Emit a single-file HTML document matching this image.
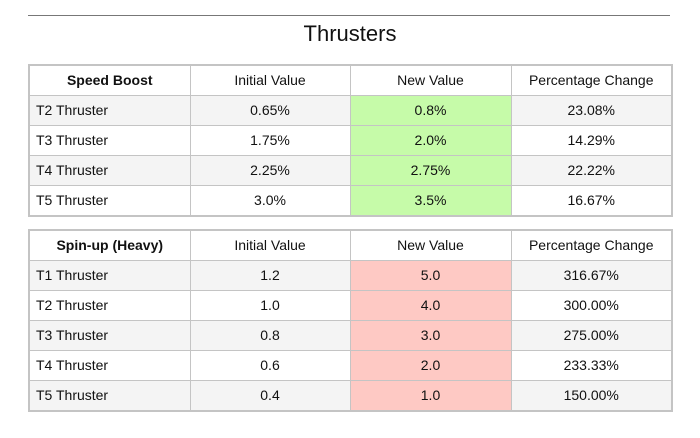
<!DOCTYPE html>
<html><head><style>
body{margin:0;width:700px;height:438px;background:#fff;font-family:"Liberation Sans",Arial,sans-serif;color:#111;position:relative;overflow:hidden}
.rule{position:absolute;left:28px;top:15px;width:642px;height:1px;background:#777}
.title{position:absolute;left:0;width:700px;top:21px;text-align:center;font-size:22px}
table{position:absolute;left:28px;width:643px;border-collapse:collapse;font-size:14px;table-layout:fixed}
td{border:1px solid #c4c4c4;text-align:center;padding:0 0 2px 0;height:27px}
td:first-child{text-align:left;padding-left:6px}
tr.h td:first-child{text-align:center;padding-left:0;font-weight:bold}
tr.g td{background:#f4f4f4}
td.gr{background:#c6fba9!important}
td.rd{background:#fec9c4!important}
table{border:2px solid #c4c4c4}
</style></head><body>
<div class="rule"></div>
<div class="title">Thrusters</div>
<table style="top:64px">
<colgroup><col style="width:161px"><col style="width:160px"><col style="width:161px"><col style="width:161px"></colgroup>
<tr class="h"><td>Speed Boost</td><td>Initial Value</td><td>New Value</td><td>Percentage Change</td></tr>
<tr class="g"><td>T2 Thruster</td><td>0.65%</td><td class="gr">0.8%</td><td>23.08%</td></tr>
<tr><td>T3 Thruster</td><td>1.75%</td><td class="gr">2.0%</td><td>14.29%</td></tr>
<tr class="g"><td>T4 Thruster</td><td>2.25%</td><td class="gr">2.75%</td><td>22.22%</td></tr>
<tr><td>T5 Thruster</td><td>3.0%</td><td class="gr">3.5%</td><td>16.67%</td></tr>
</table>
<table style="top:229px">
<colgroup><col style="width:161px"><col style="width:160px"><col style="width:161px"><col style="width:161px"></colgroup>
<tr class="h"><td>Spin-up (Heavy)</td><td>Initial Value</td><td>New Value</td><td>Percentage Change</td></tr>
<tr class="g"><td>T1 Thruster</td><td>1.2</td><td class="rd">5.0</td><td>316.67%</td></tr>
<tr><td>T2 Thruster</td><td>1.0</td><td class="rd">4.0</td><td>300.00%</td></tr>
<tr class="g"><td>T3 Thruster</td><td>0.8</td><td class="rd">3.0</td><td>275.00%</td></tr>
<tr><td>T4 Thruster</td><td>0.6</td><td class="rd">2.0</td><td>233.33%</td></tr>
<tr class="g"><td>T5 Thruster</td><td>0.4</td><td class="rd">1.0</td><td>150.00%</td></tr>
</table>
</body></html>
